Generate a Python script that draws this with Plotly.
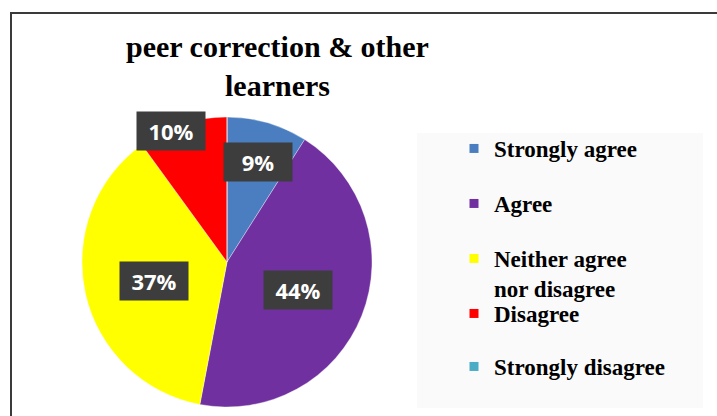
import math
import plotly.graph_objects as go

# Survey answers and their shares (percent)
labels = ["Strongly agree", "Agree", "Neither agree<br>nor disagree", "Disagree", "Strongly disagree"]
values = [9, 44, 37, 10, 0]
colors = ["#4a7ec0", "#7030a0", "#ffff00", "#ff0000", "#4bacc6"]
title_text = "peer correction &amp; other<br>learners"

# Canvas and pie geometry (pixels)
W, H = 717, 416
cx, cy, r = 227, 262, 145

# Where each value label sits: fraction of the radius, and an angular nudge (deg)
label_radius = [0.72, 0.53, 0.52, 0.98]
label_turn = [1, 0, -2, -5]

# Vertical pixel position of each legend entry's first line
legend_rows = [150, 205, 260, 315, 368]
legend_x = 454

fig = go.Figure()

fig.add_trace(go.Pie(
    labels=labels,
    values=values,
    marker=dict(colors=colors, line=dict(color="rgba(255,255,255,0.6)", width=0.6)),
    sort=False,
    direction="clockwise",
    rotation=0,
    textinfo="none",
    hoverinfo="label+percent",
    showlegend=False,
    domain=dict(x=[(cx - r) / W, (cx + r) / W], y=[(H - cy - r) / H, (H - cy + r) / H]),
))

# Value labels in dark boxes, placed along each slice's mid-angle
total = sum(values)
annotations = []
cum = 0.0
for i, v in enumerate(values):
    if v <= 0:
        cum += v
        continue
    mid = math.radians((cum + v / 2) / total * 360 + label_turn[i])
    px = cx + label_radius[i] * r * math.sin(mid)
    py = cy - label_radius[i] * r * math.cos(mid)
    annotations.append(dict(
        x=px / W, y=1 - py / H, xref="paper", yref="paper",
        text=f"{v}%", showarrow=False,
        font=dict(family="Open Sans", size=22, color="white", weight="bold"),
        bgcolor="#3d3d3d", width=68, height=38, borderpad=0,
        xanchor="center", yanchor="middle",
    ))
    cum += v

# Chart title
annotations.append(dict(
    x=277 / W, y=1 - 28 / H, xref="paper", yref="paper",
    text=title_text, showarrow=False, align="center",
    xanchor="center", yanchor="top",
    font=dict(family="Liberation Serif", size=30, color="black", weight="bold"),
))

# Legend: one entry per answer, each in its own legend so rows are evenly spaced
legend_layout = {}
for i, (lab, col) in enumerate(zip(labels, colors)):
    lname = "legend" if i == 0 else f"legend{i + 1}"
    fig.add_trace(go.Scatter(
        x=[None], y=[None], mode="markers", name=lab,
        marker=dict(symbol="square", size=9, color=col),
        legend=lname, showlegend=True, hoverinfo="skip",
    ))
    legend_layout[lname] = dict(
        x=legend_x / W, y=1 - (legend_rows[i] - 23) / H,
        xanchor="left", yanchor="top", valign="top",
        bgcolor="rgba(0,0,0,0)", borderwidth=0,
        font=dict(family="Liberation Serif", size=23, color="black", weight="bold"),
        itemclick=False, itemdoubleclick=False,
    )

shapes = [
    # faint panel behind the legend
    dict(type="rect", xref="paper", yref="paper", layer="below",
         x0=417 / W, x1=703 / W, y0=1 - 408 / H, y1=1 - 133 / H,
         fillcolor="#fafafa", line=dict(width=0)),
    # chart frame
    dict(type="rect", xref="paper", yref="paper",
         x0=11 / W, x1=1.05, y0=-0.05, y1=1 - 13 / H,
         fillcolor="rgba(0,0,0,0)", line=dict(color="#3a3a3a", width=2)),
]

fig.update_layout(
    width=W, height=H,
    margin=dict(l=0, r=0, t=0, b=0),
    paper_bgcolor="white", plot_bgcolor="rgba(0,0,0,0)",
    xaxis=dict(visible=False), yaxis=dict(visible=False),
    annotations=annotations,
    shapes=shapes,
    **legend_layout,
)

fig.write_html("out.html")
